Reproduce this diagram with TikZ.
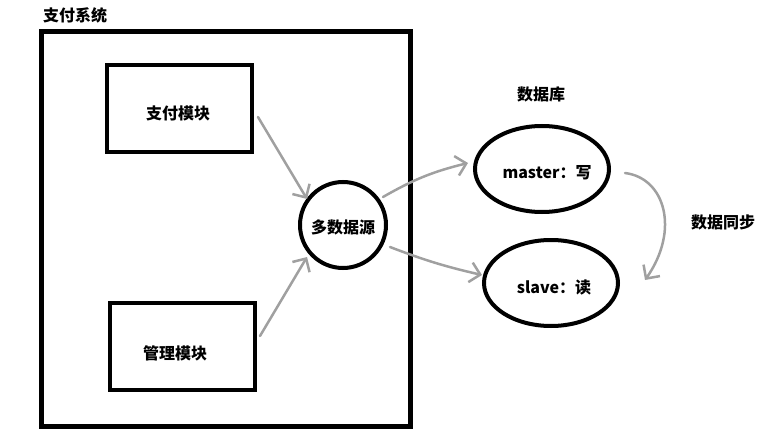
\documentclass[tikz,border=0pt]{standalone}
\usepackage{fontspec}
\setmainfont{Noto Sans CJK SC}
\usetikzlibrary{arrows.meta,shapes.geometric}
\definecolor{arrgray}{HTML}{A0A0A0}
\tikzset{
  box/.style={draw=black, line width=4.5pt, inner sep=0pt, fill=none},
  txt/.style={font=\fontsize{16}{19}\selectfont\bfseries, inner sep=0pt},
  ring/.style={draw=black, line width=4pt, inner sep=0pt},
  arr/.style={draw=arrgray, line width=2.5pt, line cap=round,
    -{Straight Barb[length=10pt,width=20pt,line width=2.5pt]}},
}
\begin{document}
\begin{tikzpicture}[x=1pt,y=-1pt]
\useasboundingbox (0,0) rectangle (782,441);
% system box
\node[box, line width=5pt, rectangle, minimum width=368.5pt, minimum height=395pt] (sys) at (225.75,229) {};
\node[txt, anchor=west] (systitle) at (43,15) {支付系统};
% modules
\node[box, rectangle, minimum width=145pt, minimum height=87pt] (pay) at (179.5,108.5) {};
\node[txt] (paytxt) at (178,113) {支付模块};
\node[box, rectangle, minimum width=145pt, minimum height=87pt] (mgmt) at (182.5,346.5) {};
\node[txt] (mgmttxt) at (175,353) {管理模块};
% data source
\node[ring, circle, minimum size=86pt] (ds) at (343,225) {};
\node[txt] (dstxt) at (343,227) {多数据源};
% databases
\node[txt] (dbtitle) at (541,94) {数据库};
\node[ring, ellipse, minimum width=134pt, minimum height=86pt] (master) at (542,169) {};
\node[txt] (mastertxt) at (547,173) {master：写};
\node[ring, ellipse, minimum width=134pt, minimum height=86pt] (slave) at (551,283) {};
\node[txt] (slavetxt) at (554,287) {slave：读};
\node[txt] (synctxt) at (723,222) {数据同步};
% connectors
\coordinate (a1s) at (258,117);
\coordinate (a2s) at (260,336);
\coordinate (a3s) at (383,197);
\coordinate (a4s) at (390,247);
\coordinate (a5s) at (625,173);
\coordinate (a1e) at (307,199);
\coordinate (a2e) at (307,257);
\coordinate (a3e) at (468,163);
\coordinate (a4e) at (482,275);
\coordinate (a5e) at (645,280);
\draw[arr] (a1s) -- (a1e);
\draw[arr] (a2s) -- (a2e);
\draw[arr] (a3s) to[bend left=8] (a3e);
\draw[arr] (a4s) to[bend right=4] (a4e);
\draw[arr] (a5s) .. controls (665,178) and (680,230) .. (a5e);
\end{tikzpicture}
\end{document}
